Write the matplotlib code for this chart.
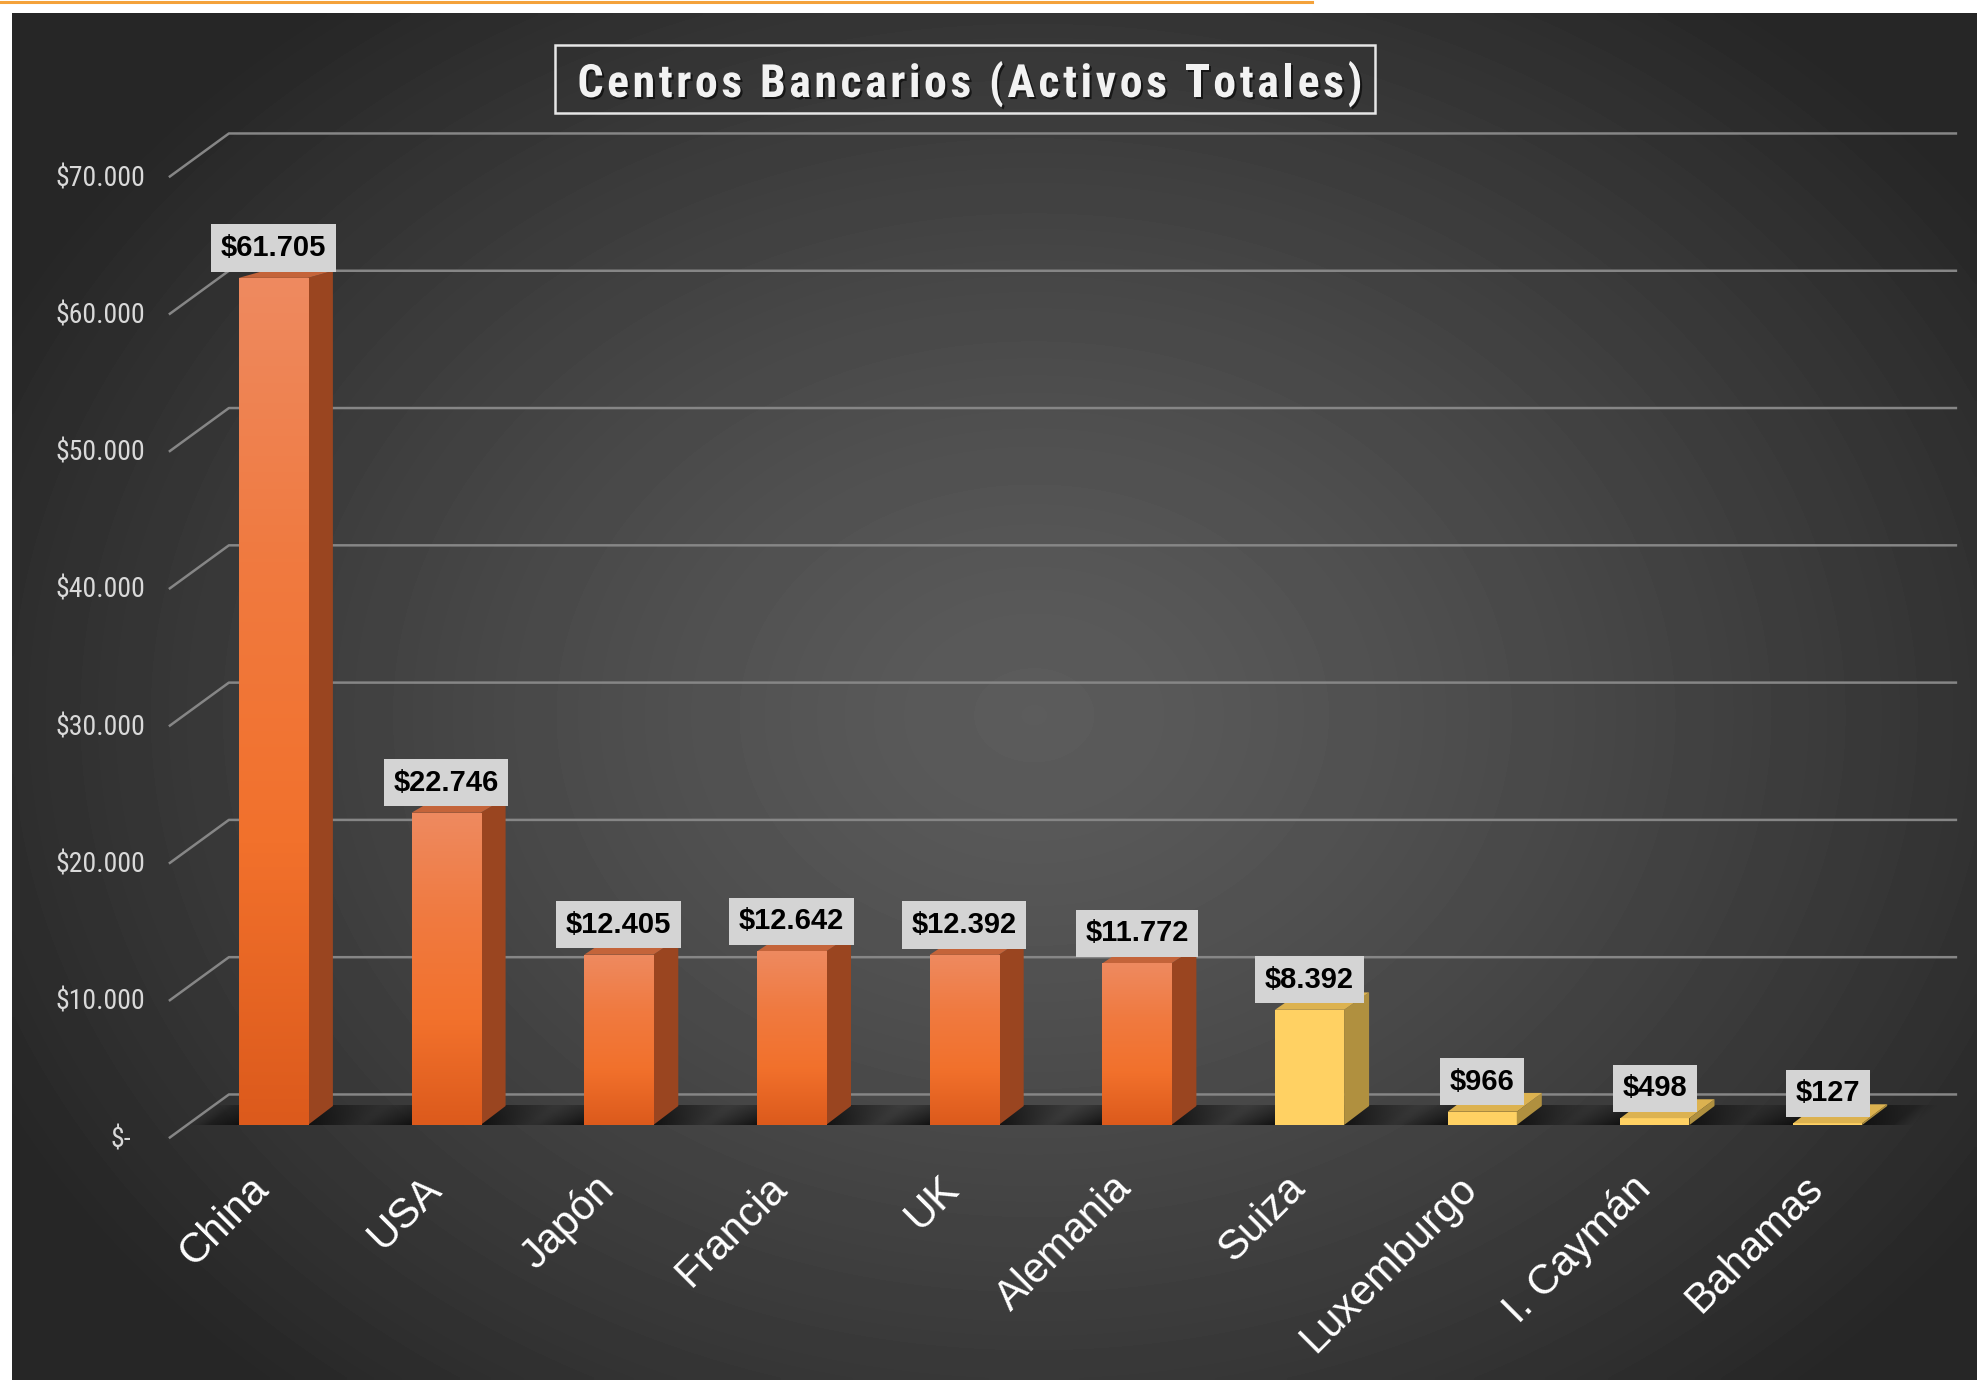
import numpy as np
import matplotlib.pyplot as plt
import matplotlib.patheffects as pe
from matplotlib.colors import LinearSegmentedColormap
from matplotlib.patches import Polygon, Rectangle
from matplotlib import font_manager

# datos del grafico
paises = ['China', 'USA', 'Japón', 'Francia', 'UK', 'Alemania', 'Suiza',
          'Luxemburgo', 'I. Caymán', 'Bahamas']
activos = [61705, 22746, 12405, 12642, 12392, 11772, 8392, 966, 498, 127]
grupo = ['naranja'] * 6 + ['amarillo'] * 4
niveles = [0, 10000, 20000, 30000, 40000, 50000, 60000, 70000]
etiquetas_y = ['$-', '$10.000', '$20.000', '$30.000', '$40.000',
               '$50.000', '$60.000', '$70.000']
titulo = 'Centros Bancarios (Activos Totales)'

nombres = {f.name for f in font_manager.fontManager.ttflist}
narrow = None
for n in ['Liberation Sans Narrow', 'Roboto Condensed', 'Arial Narrow']:
    if n in nombres:
        narrow = n
        break
if narrow:
    fam_y, tam_y, fam_t, tam_t = narrow, 20, narrow, 33
else:
    fam_y, tam_y, fam_t, tam_t = 'Liberation Sans', 17, 'Liberation Sans', 30

W, H = 1977, 1380
fig = plt.figure(figsize=(W / 100, H / 100), dpi=100, facecolor='white')

# fondo con degradado radial
bg = fig.add_axes([12 / W, 0, 1 - 12 / W, 1 - 13 / H])
ny, nx = 300, 430
yy, xx = np.mgrid[0:ny, 0:nx]
xx = xx / nx * (W - 12)
yy = yy / ny * (H - 13)
r = np.sqrt(((xx - 1020) / 1150) ** 2 + ((yy - 700) / 900) ** 2)
g = 0.36 - 0.21 * np.clip(r, 0, 1) ** 1.3
bg.imshow(g, cmap='gray', vmin=0, vmax=1, aspect='auto', interpolation='bilinear')
bg.axis('off')

fig.add_artist(plt.Line2D([0, 1312 / W], [1 - 1.5 / H] * 2, color='#f4a23a',
                          lw=2.2, transform=fig.transFigure))

ax = fig.add_axes([187 / W, (H - 1125) / H, 1727 / W, 961 / H])
ax.set_xlim(-0.5, 9.5)
ax.set_ylim(0, 70000)
ax.axis('off')

ppx = 1727 / 10
ppy = 961 / 70000


def off(x, y, dxp, dyp):
    return x + dxp / ppx, y + dyp / ppy


# profundidad (pixeles) del suelo y de las barras
Dx, Dy = 59, 43
fr = 0.29
bdx, bdy = 25, 19


def prof(v):
    return bdy * (1 - v / 97700)


# lineas de la cuadricula
for v in niveles:
    p1 = off(-0.5, v, -fr * Dx, -fr * Dy)
    p2 = off(-0.5, v, (1 - fr) * Dx, (1 - fr) * Dy)
    p3 = off(9.5, v, (1 - fr) * Dx, (1 - fr) * Dy)
    ax.plot([p1[0], p2[0], p3[0]], [p1[1], p2[1], p3[1]], color='#868686',
            lw=1.8, clip_on=False, zorder=1)

x = np.arange(len(paises))
w = 0.4

# sombras del suelo entre barras
a = off(-0.5, 0, 0, 0)
b = off(9.5, 0, 0, 0)
c = off(9.5, 0, bdx, bdy)
d = off(-0.5, 0, bdx, bdy)
piso = Polygon([a, b, c, d], closed=True, fc='none', ec='none', zorder=2, clip_on=False)
ax.add_patch(piso)
nr, nc = 30, 800
t = np.linspace(1, 0, nr).reshape(-1, 1)       # 1 = frente, 0 = fondo
cx = np.linspace(a[0], c[0], nc).reshape(1, -1)
cx = cx - (1 - t) * bdx / ppx
dist = np.min(np.abs(cx[..., None] - x) - w / 2, axis=-1)
dist = np.clip(dist, 0, None)
alfa = 0.95 - 0.6 * np.clip(dist / 0.28, 0, 1)
alfa = alfa * (0.65 + 0.35 * t)
borde = np.clip(np.minimum(cx - a[0], b[0] - cx) / 0.12, 0, 1)
alfa = alfa * borde
sombra = np.zeros((nr, nc, 4))
sombra[..., :3] = 0.06
sombra[..., 3] = alfa
ims = ax.imshow(sombra, extent=[a[0], c[0], a[1], c[1]], origin='lower',
                aspect='auto', zorder=2, clip_on=False, interpolation='bilinear')
ims.set_clip_path(piso)

cmap_nar = LinearSegmentedColormap.from_list(
    'nar', ['#dc5a1c', '#f2712c', '#f07a40', '#ee8a60'])
frente = {'naranja': '#f0702c', 'amarillo': '#ffd163'}
lado = {'naranja': '#9a4520', 'amarillo': '#b0903f'}
tapa = {'naranja': '#c4643a', 'amarillo': '#dcb250'}

barras = ax.bar(x, activos, width=w, color=[frente[k] for k in grupo], zorder=3)

grad = np.linspace(0, 1, 256).reshape(-1, 1)
for i, (v, k) in enumerate(zip(activos, grupo)):
    xl, xr = i - w / 2, i + w / 2
    side = [(xr, 0), (xr, v), off(xr, v, bdx, prof(v)), off(xr, 0, bdx, prof(0))]
    ax.add_patch(Polygon(side, closed=True, fc=lado[k], ec='none', zorder=3))
    top = [(xl, v), (xr, v), off(xr, v, bdx, prof(v)), off(xl, v, bdx, prof(v))]
    ax.add_patch(Polygon(top, closed=True, fc=tapa[k], ec='none', zorder=3))
    if k == 'naranja':
        im = ax.imshow(grad, extent=[xl, xr, 0, v], origin='lower', cmap=cmap_nar,
                       aspect='auto', zorder=3.5)
        im.set_clip_path(barras[i])

ax.set_xlim(-0.5, 9.5)
ax.set_ylim(0, 70000)

# etiquetas de datos
for i, v in enumerate(activos):
    txt = '${:,}'.format(v).replace(',', '.')
    ax.annotate(txt, (i, v), xytext=(0, 11.5), textcoords='offset points',
                ha='center', va='bottom', fontsize=21, fontweight='bold',
                family='Liberation Sans', color='black', zorder=10,
                bbox=dict(boxstyle='square,pad=0.33', fc='#d4d4d4', ec='none'))

# eje y
for v, t in zip(niveles, etiquetas_y):
    dx = -30 if v else -40
    ax.annotate(t, (-0.5, v), xytext=(dx, -10.5), textcoords='offset points',
                ha='right', va='center', fontsize=tam_y, family=fam_y,
                color='#d9d9d9', annotation_clip=False)

# categorias
for i, p in enumerate(paises):
    ax.annotate(p, (i, 0), xytext=(-18, -31), textcoords='offset points',
                rotation=45, rotation_mode='anchor', ha='right', va='top',
                fontsize=30, family='Liberation Sans', color='white',
                annotation_clip=False)

# titulo con espaciado entre letras
fig.add_artist(Rectangle((555 / W, 1 - 113 / H), 820 / W, 68 / H,
                         transform=fig.transFigure, fill=False,
                         ec='#e6e6e6', lw=1.8))
rend = fig.canvas.get_renderer()


def ancho(s):
    tt = fig.text(0, 0, s, fontsize=tam_t, family=fam_t, fontweight='bold')
    wd = tt.get_window_extent(rend).width
    tt.remove()
    return wd


ref = ancho('|')
pos = [0] + [ancho(titulo[:i] + '|') - ref for i in range(1, len(titulo))]
total = ancho(titulo)
esp = (785 - total) / (len(titulo) - 1)
x0 = 970 - (total + esp * (len(titulo) - 1)) / 2
sombra_t = [pe.SimplePatchShadow(offset=(1.5, -1.5), shadow_rgbFace='black', alpha=0.6),
            pe.Normal()]
for i, ch in enumerate(titulo):
    if ch == ' ':
        continue
    fig.text((x0 + pos[i] + esp * i) / W, 1 - 84 / H, ch, ha='left', va='center',
             fontsize=tam_t, fontweight='bold', family=fam_t, color='#f2f2f2',
             path_effects=sombra_t)

fig.savefig('out.png', dpi=100, facecolor='white')
